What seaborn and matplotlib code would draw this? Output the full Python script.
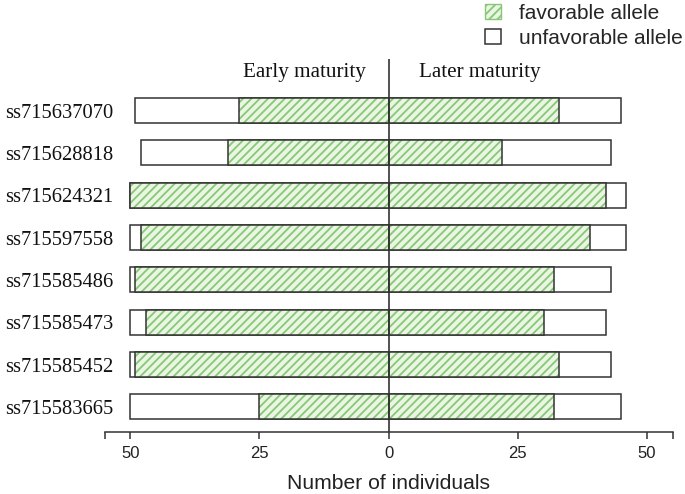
import matplotlib
matplotlib.use("Agg")
import matplotlib.pyplot as plt
import seaborn as sns
import pandas as pd
from matplotlib.patches import Patch

markers = ["ss715637070", "ss715628818", "ss715624321", "ss715597558",
           "ss715585486", "ss715585473", "ss715585452", "ss715583665"]
early_total = [49, 48, 50, 50, 50, 50, 50, 50]
early_fav = [29, 31, 50, 48, 49, 47, 49, 25]
later_total = [45, 43, 46, 46, 43, 42, 43, 45]
later_fav = [33, 22, 42, 39, 32, 30, 33, 32]
xtick_pos = [-55, -50, -25, 0, 25, 50, 55]
xtick_labels = ["", "50", "25", "0", "25", "50", ""]
legend_labels = ["favorable allele", "unfavorable allele"]

sns.set_theme(style="white")
plt.rcParams["font.family"] = ["Liberation Sans", "DejaVu Sans"]
plt.rcParams["hatch.linewidth"] = 1.3

EDGE = "#333333"
HATCH = "#86c878"
LIGHT = "#eaf6e2"
SERIF = ["Liberation Serif", "DejaVu Serif"]

df = pd.DataFrame({
    "marker": markers,
    "early_total": [-v for v in early_total],
    "early_fav": [-v for v in early_fav],
    "later_total": later_total,
    "later_fav": later_fav,
})

fig = plt.figure(figsize=(6.85, 4.94), dpi=100)
ax = fig.add_axes([104.5 / 685, (494 - 432.3) / 494,
                   (672.7 - 104.5) / 685, (432.3 - 59) / 494])

W = 0.59
for tot, fav in [("early_total", "early_fav"), ("later_total", "later_fav")]:
    sns.barplot(data=df, x=tot, y="marker", order=markers, orient="h",
                color="white", saturation=1, edgecolor=EDGE, linewidth=1.1,
                width=W, ax=ax)
    sns.barplot(data=df, x=fav, y="marker", order=markers, orient="h",
                color=LIGHT, saturation=1, edgecolor=HATCH, linewidth=0,
                hatch="////", width=W, ax=ax)
    n1 = len(ax.patches)
    sns.barplot(data=df, x=fav, y="marker", order=markers, orient="h",
                color="white", saturation=1, edgecolor=EDGE, linewidth=1.1,
                width=W, ax=ax)
    for p in ax.patches[n1:]:
        p.set_facecolor("none")

ax.axvline(0, color=EDGE, lw=1.2, zorder=5)
ax.set_xlim(-55, 55)
ax.set_ylim(7.6, -1.22)

for s in ["top", "right", "left"]:
    ax.spines[s].set_visible(False)
ax.spines["bottom"].set_color(EDGE)
ax.spines["bottom"].set_linewidth(1.1)

ax.set_xticks(xtick_pos)
ax.set_xticklabels(xtick_labels, fontsize=12, color="#222222")
ax.tick_params(axis="x", bottom=True, length=5, width=1.1, color=EDGE, pad=5)
ax.tick_params(axis="y", left=False, pad=-12.3)
for lab in ax.get_yticklabels():
    lab.set_fontfamily(SERIF)
    lab.set_fontsize(14.8)
    lab.set_color("#111111")

ax.set_ylabel("")
ax.set_xlabel("Number of individuals", fontsize=15.2, color="#222222",
              labelpad=9.5)

ax.text(-4.4, -0.91, "Early maturity", ha="right", va="center",
        fontsize=15.2, family=SERIF, color="#111111")
ax.text(5.8, -0.91, "Later maturity", ha="left", va="center",
        fontsize=15.2, family=SERIF, color="#111111")

handles = [Patch(facecolor=LIGHT, edgecolor=HATCH, hatch="////", linewidth=1.0),
           Patch(facecolor="white", edgecolor=EDGE, linewidth=1.1)]
fig.legend(handles, legend_labels, loc="upper left",
           bbox_to_anchor=(483 / 685, 0.997), frameon=False, fontsize=15,
           handlelength=0.75, handleheight=0.75, handletextpad=0.9,
           labelspacing=0.3, borderaxespad=0, borderpad=0.1)

fig.savefig("out.png", dpi=100)
